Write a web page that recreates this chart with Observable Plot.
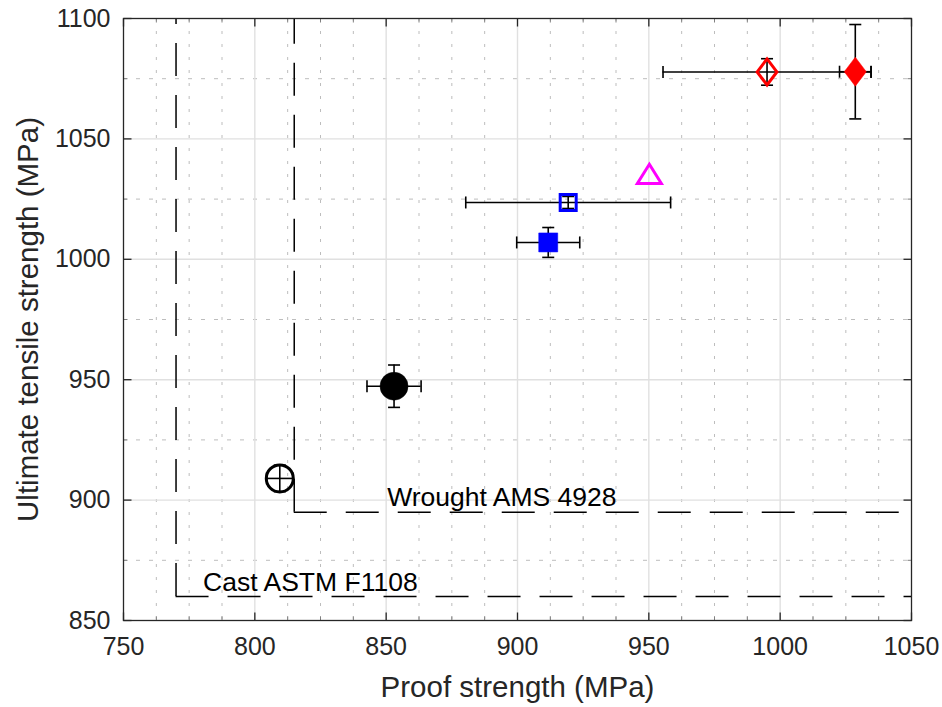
<!DOCTYPE html>
<html>
<head>
<meta charset="utf-8">
<script src="https://cdn.jsdelivr.net/npm/d3@7"></script>
<script src="https://cdn.jsdelivr.net/npm/@observablehq/plot@0.6"></script>
<style>
  html, body { margin: 0; padding: 0; background: #fff; }
  #chart svg { display: block; }
</style>
</head>
<body>
<div id="chart"></div>
<script>
// ---- data ----
const series    = ["A", "B", "C", "D", "E", "F", "G"];
const proof     = [809.5, 853, 911.7, 919.3, 950.2, 995.0, 1028.6];
const uts       = [909.0, 947.3, 1007.0, 1023.6, 1035.5, 1077.8, 1077.9];
const proofErr  = [5, 10.3, 12, 39, 0, 39.6, 6];
const utsErr    = [5.5, 8.8, 6.2, 2.5, 0, 5.5, 19.6];

const refNames  = ["Cast ASTM F1108", "Wrought AMS 4928"];
const refProof  = [770, 815];
const refUts    = [860, 895];
const refLabelX = [780.3, 850.4];
const refLabelY = [865.6, 901.1];

const xTicks = [750, 800, 850, 900, 950, 1000, 1050];
const yTicks = [850, 900, 950, 1000, 1050, 1100];
const xMinor = d3.range(750, 1050.01, 12.5).filter(v => v % 50 !== 0);
const yMinor = d3.range(850, 1100.01, 25).filter(v => v % 50 !== 0);

// ---- styles ----
const style = {
  A: {shape: "circle",   color: "black",   filled: false, r: 13.5},
  B: {shape: "circle",   color: "black",   filled: true,  r: 14},
  C: {shape: "square",   color: "blue",    filled: true,  r: 9.5},
  D: {shape: "square",   color: "blue",    filled: false, r: 8},
  E: {shape: "triangle", color: "magenta", filled: false, r: 12},
  F: {shape: "diamond",  color: "red",     filled: false, r: 13},
  G: {shape: "diamond",  color: "red",     filled: true,  r: 14.5}
};

const rad = size => Math.sqrt(size / Math.PI);
const shapes = {
  circle: "circle",
  square: {draw(c, s) { const r = rad(s); c.moveTo(-r, -r); c.lineTo(r, -r); c.lineTo(r, r); c.lineTo(-r, r); c.closePath(); }},
  triangle: {draw(c, s) { const r = rad(s); c.moveTo(0, -0.8 * r); c.lineTo(r, 0.8 * r); c.lineTo(-r, 0.8 * r); c.closePath(); }},
  diamond: {draw(c, s) { const r = rad(s), w = 0.76 * r; c.moveTo(0, -r); c.lineTo(w, 0); c.lineTo(0, r); c.lineTo(-w, 0); c.closePath(); }}
};
const vline = {draw(c, s) { const r = rad(s); c.moveTo(0, -r); c.lineTo(0, r); }};
const hline = {draw(c, s) { const r = rad(s); c.moveTo(-r, 0); c.lineTo(r, 0); }};
const tickUp    = {draw(c, s) { const r = rad(s); c.moveTo(0, 0); c.lineTo(0, -r); }};
const tickDown  = {draw(c, s) { const r = rad(s); c.moveTo(0, 0); c.lineTo(0, r); }};
const tickRight = {draw(c, s) { const r = rad(s); c.moveTo(0, 0); c.lineTo(r, 0); }};
const tickLeft  = {draw(c, s) { const r = rad(s); c.moveTo(0, 0); c.lineTo(-r, 0); }};

const idx = d3.range(series.length);
const xe = idx.filter(i => proofErr[i] > 0);
const ye = idx.filter(i => utsErr[i] > 0);
const refIdx = d3.range(refNames.length);

const font = "'Liberation Sans', Arial, Helvetica, sans-serif";
const axisColor = "#262626";
const dash = "33,19";

const marks = [
  // grids
  Plot.ruleX(xMinor, {stroke: "#bdbdbd", strokeWidth: 1, strokeDasharray: "3,10"}),
  Plot.ruleY(yMinor, {stroke: "#bdbdbd", strokeWidth: 1, strokeDasharray: "4,9"}),
  Plot.ruleX(xTicks.slice(1, -1), {stroke: "#e0e0e0", strokeWidth: 1.4}),
  Plot.ruleY(yTicks.slice(1, -1), {stroke: "#e0e0e0", strokeWidth: 1.4}),
  // reference limits
  Plot.ruleX(refIdx, {x: i => refProof[i], y1: i => refUts[i], y2: () => 1100, stroke: "black", strokeWidth: 1.5, strokeDasharray: dash}),
  Plot.ruleY(refIdx, {y: i => refUts[i], x1: i => refProof[i], x2: () => 1050, stroke: "black", strokeWidth: 1.5, strokeDasharray: dash}),
  Plot.text(refIdx, {x: i => refLabelX[i], y: i => refLabelY[i], text: i => refNames[i], textAnchor: "start", lineAnchor: "middle", fontSize: 26.5, fill: "black"}),
  // error bars
  Plot.ruleY(xe, {y: i => uts[i], x1: i => proof[i] - proofErr[i], x2: i => proof[i] + proofErr[i], stroke: "black", strokeWidth: 1.6}),
  Plot.ruleX(ye, {x: i => proof[i], y1: i => uts[i] - utsErr[i], y2: i => uts[i] + utsErr[i], stroke: "black", strokeWidth: 1.6}),
  Plot.dot(xe, {x: i => proof[i] - proofErr[i], y: i => uts[i], symbol: vline, r: 6, stroke: "black", strokeWidth: 1.6}),
  Plot.dot(xe, {x: i => proof[i] + proofErr[i], y: i => uts[i], symbol: vline, r: 6, stroke: "black", strokeWidth: 1.6}),
  Plot.dot(ye, {x: i => proof[i], y: i => uts[i] - utsErr[i], symbol: hline, r: 6, stroke: "black", strokeWidth: 1.6}),
  Plot.dot(ye, {x: i => proof[i], y: i => uts[i] + utsErr[i], symbol: hline, r: 6, stroke: "black", strokeWidth: 1.6}),
  // markers
  ...idx.map(i => {
    const s = style[series[i]];
    return Plot.dot([i], {
      x: j => proof[j], y: j => uts[j],
      symbol: shapes[s.shape], r: s.r,
      fill: s.filled ? s.color : "none",
      stroke: s.color,
      strokeWidth: s.filled ? 0.5 : 3,
      strokeLinejoin: "miter"
    });
  }),
  // inward ticks
  Plot.dot(xTicks, {x: d => d, y: () => 850, symbol: tickUp, r: 8, stroke: axisColor, strokeWidth: 1.3}),
  Plot.dot(xTicks, {x: d => d, y: () => 1100, symbol: tickDown, r: 8, stroke: axisColor, strokeWidth: 1.3}),
  Plot.dot(xMinor, {x: d => d, y: () => 850, symbol: tickUp, r: 4, stroke: "#808080", strokeWidth: 1}),
  Plot.dot(xMinor, {x: d => d, y: () => 1100, symbol: tickDown, r: 4, stroke: "#808080", strokeWidth: 1}),
  Plot.dot(yTicks, {y: d => d, x: () => 750, symbol: tickRight, r: 8, stroke: axisColor, strokeWidth: 1.3}),
  Plot.dot(yTicks, {y: d => d, x: () => 1050, symbol: tickLeft, r: 8, stroke: axisColor, strokeWidth: 1.3}),
  Plot.dot(yMinor, {y: d => d, x: () => 750, symbol: tickRight, r: 4, stroke: "#808080", strokeWidth: 1}),
  Plot.dot(yMinor, {y: d => d, x: () => 1050, symbol: tickLeft, r: 4, stroke: "#808080", strokeWidth: 1}),
  Plot.frame({stroke: axisColor, strokeWidth: 1.3}),
  // axes
  Plot.axisX(xTicks, {tickSize: 0, tickPadding: 17, fontSize: 25, fill: axisColor, label: null, tickFormat: d3.format("d")}),
  Plot.axisY(yTicks, {tickSize: 0, tickPadding: 13, fontSize: 25, fill: axisColor, label: null, tickFormat: d3.format("d")}),
  Plot.text(["Proof strength (MPa)"], {frameAnchor: "bottom", dy: 67, text: d => d, fontSize: 29.5, fill: axisColor, textAnchor: "middle", lineAnchor: "middle"}),
  Plot.text(["Ultimate tensile strength (MPa)"], {frameAnchor: "left", dx: -95, text: d => d, rotate: -90, fontSize: 29.5, fill: axisColor, textAnchor: "middle", lineAnchor: "middle"})
];

const chart = Plot.plot({
  width: 942,
  height: 707,
  marginLeft: 123,
  marginRight: 31,
  marginTop: 18,
  marginBottom: 87,
  style: {fontFamily: font, background: "#fff", color: axisColor},
  x: {domain: [750, 1050], axis: null},
  y: {domain: [850, 1100], axis: null},
  marks
});
document.getElementById("chart").appendChild(chart);
</script>
</body>
</html>
